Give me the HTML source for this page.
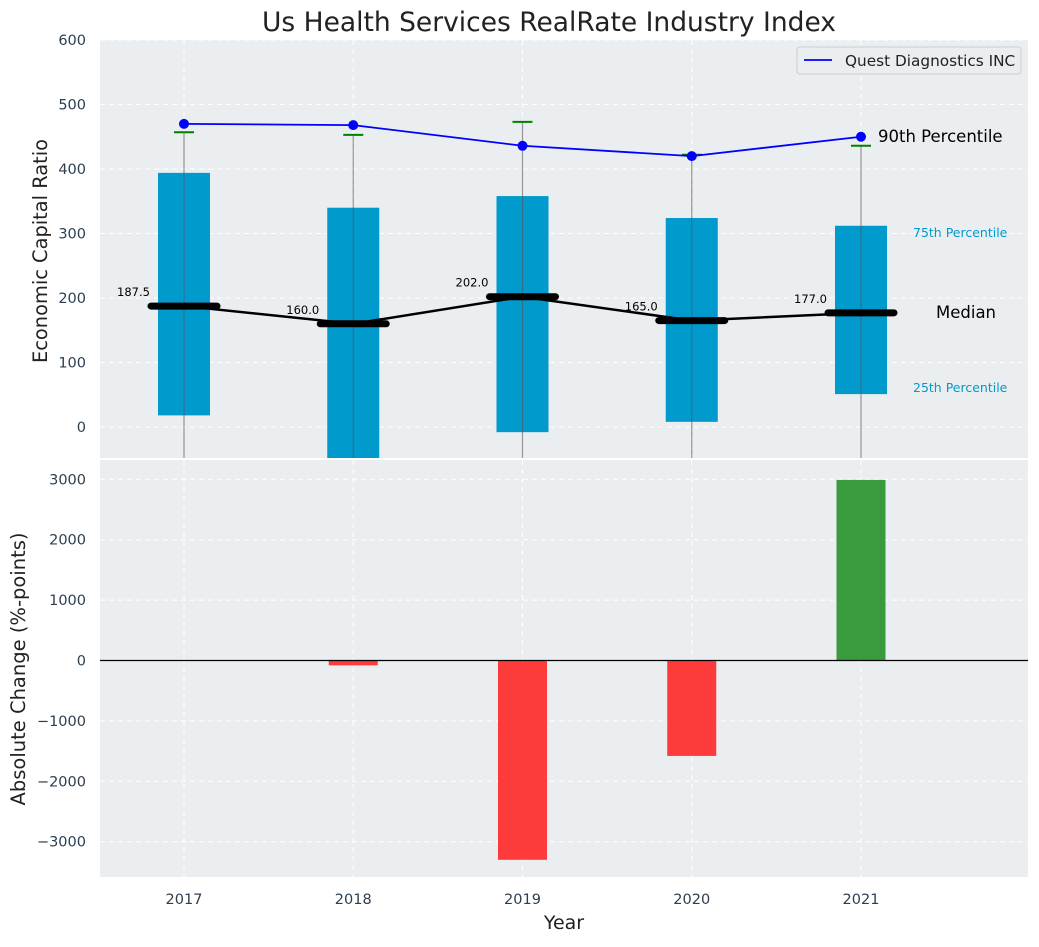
<!DOCTYPE html>
<html><head><meta charset="utf-8"><style>
body{margin:0;background:#fff;font-family:"Liberation Sans","DejaVu Sans",sans-serif}
svg text{font-family:"DejaVu Sans","Liberation Sans",sans-serif}
</style></head><body>
<svg id="c" width="1039" height="942" xmlns="http://www.w3.org/2000/svg"></svg>
<script>
const years=[2017,2018,2019,2020,2021];
const p25=[18,-60,-8,8,51];
const p75=[394,340,358,324,312];
const p90=[457,453,473,422,436];
const medians=[187.5,160.0,202.0,165.0,177.0];
const company=[470,468,436,420,450];
const changes=[0,-80,-3300,-1580,2990];
const topTicks=[0,100,200,300,400,500,600];
const botTicks=[-3000,-2000,-1000,0,1000,2000,3000];

const NS="http://www.w3.org/2000/svg";
const svg=document.getElementById('c');
function el(t,a,p){const e=document.createElementNS(NS,t);for(const k in a)e.setAttribute(k,a[k]);(p||svg).appendChild(e);return e;}
const L=100,R=1028;
const x=v=>184+(v-2017)*169.25;
const yT=v=>427-v*0.645;
const T0=40,T1=458,B0=460,B1=877;
const yB=v=>660.5-v*0.0604;

let r=el('rect',{x:L,y:T0,width:R-L,height:T1-T0,fill:'#eaeef0'});

r=el('rect',{x:L,y:B0,width:R-L,height:B1-B0,fill:'#eaeef0'});


const gT=el('g',{});
topTicks.forEach(t=>{el('line',{x1:L,x2:R,y1:yT(t),y2:yT(t),stroke:'#fff','stroke-dasharray':'5,4'},gT);});
years.forEach(yr=>{el('line',{x1:x(yr),x2:x(yr),y1:T0,y2:T1,stroke:'#fff','stroke-dasharray':'5,4'},gT);
 el('line',{x1:x(yr),x2:x(yr),y1:B0,y2:B1,stroke:'#fff','stroke-dasharray':'5,4'},gT);});
botTicks.forEach(t=>{el('line',{x1:L,x2:R,y1:yB(t),y2:yB(t),stroke:'#fff','stroke-dasharray':'5,4'},gT);});

topTicks.forEach(t=>{const e=el('text',{x:86,y:yT(t)+5,'text-anchor':'end','font-size':14.5,fill:'#2c3e50'});e.textContent=t;
 });
botTicks.forEach(t=>{const e=el('text',{x:86,y:yB(t)+5,'text-anchor':'end','font-size':14.5,fill:'#2c3e50'});e.textContent=String(t).replace('-','\u2212');
 });
years.forEach(yr=>{const e=el('text',{x:x(yr),y:904,'text-anchor':'middle','font-size':14.5,fill:'#2c3e50'});e.textContent=yr;
 });

const defs=el('defs',{});const cp=el('clipPath',{id:'ct'},defs);el('rect',{x:L,y:T0,width:R-L,height:T1-T0},cp);
const gc=el('g',{'clip-path':'url(#ct)'});
years.forEach((yr,i)=>{
 const cx=x(yr);
 const b=el('rect',{x:cx-26,y:yT(p75[i]),width:52,height:yT(p25[i])-yT(p75[i]),fill:'#009acd'},gc);
 
 const w=el('line',{x1:cx,x2:cx,y1:T1+5,y2:yT(p90[i]),stroke:'#555','stroke-opacity':0.6,'stroke-width':1.2},gc);
 
 const cap=el('line',{x1:cx-10,x2:cx+10,y1:yT(p90[i]),y2:yT(p90[i]),stroke:'green','stroke-width':2},gc);
 
});
let ml=el('polyline',{points:years.map((yr,i)=>x(yr)+','+yT(medians[i])).join(' '),fill:'none',stroke:'#000','stroke-width':2.5},gc);

years.forEach((yr,i)=>{const cx=x(yr);
 const m=el('line',{x1:cx-33,x2:cx+33,y1:yT(medians[i]),y2:yT(medians[i]),stroke:'#000','stroke-width':7,'stroke-linecap':'round'},gc);
 
 const t=el('text',{x:cx-67,y:yT(medians[i])-10,'font-size':11.5,fill:'#000'},gc);t.textContent=medians[i].toFixed(1);
 });
let cl=el('polyline',{points:years.map((yr,i)=>x(yr)+','+yT(company[i])).join(' '),fill:'none',stroke:'blue','stroke-width':1.8},gc);

years.forEach((yr,i)=>{const d=el('circle',{cx:x(yr),cy:yT(company[i]),r:5,fill:'blue'},gc);
 });

const last=years.length-1;
[['90th Percentile',yT(company[last])+5,16.5,'#000',878],['75th Percentile',yT(p75[last])+11,12.5,'#009acd',913],
 ['Median',yT(medians[last])+5,16.5,'#000',936],['25th Percentile',yT(p25[last])-2,12.5,'#009acd',913]].forEach(a=>{
 const t=el('text',{x:a[4],y:a[1],'font-size':a[2],fill:a[3]});t.textContent=a[0];
 });

const lg=el('g',{});
el('rect',{x:797,y:47,width:224,height:27,rx:3,fill:'#eaeef0',stroke:'#ccc'},lg);
el('line',{x1:804,x2:832,y1:60,y2:60,stroke:'blue','stroke-width':1.8},lg);
let lt=el('text',{x:845,y:66,'font-size':15.3,fill:'#222'},lg);lt.textContent='Quest Diagnostics INC';

years.forEach((yr,i)=>{const v=changes[i];const y1=Math.min(yB(v),yB(0)),h=Math.abs(yB(v)-yB(0));
 const b=el('rect',{x:x(yr)-24.5,y:y1,width:49,height:h,fill:v>=0?'#3a9b3e':'#fd3b3b'});
 });
let zl=el('line',{x1:L,x2:R,y1:yB(0),y2:yB(0),stroke:'#000','stroke-width':1.2});


let t=el('text',{x:549,y:31,'text-anchor':'middle','font-size':26.5,fill:'#222'});t.textContent='Us Health Services RealRate Industry Index';

t=el('text',{x:47,y:251,'text-anchor':'middle','font-size':19.4,fill:'#222',transform:'rotate(-90 47 251)'});t.textContent='Economic Capital Ratio';

t=el('text',{x:25,y:669,'text-anchor':'middle','font-size':19.5,fill:'#222',transform:'rotate(-90 25 669)'});t.textContent='Absolute Change (%-points)';

t=el('text',{x:564,y:929,'text-anchor':'middle','font-size':19,fill:'#222'});t.textContent='Year';

</script>
</body></html>
